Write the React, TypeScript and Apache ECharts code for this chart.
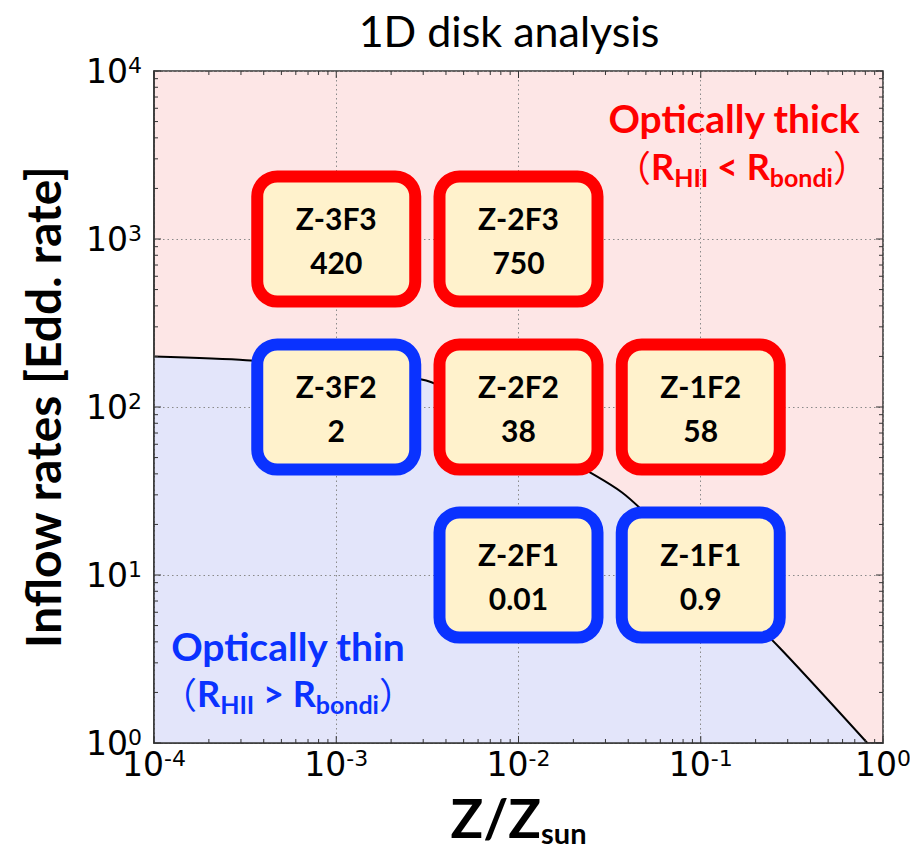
import React, { useEffect, useRef } from "react";
import * as echarts from "echarts";

// ---- data ----
const boundaryZ = [1e-4, 3.2e-4, 1e-3, 3.3e-3, 1e-2, 3.7e-2, 1e-1, 2.7e-1, 8.2e-1];
const boundaryRate = [200, 190, 166, 141, 70, 31, 10.8, 3.7, 1];

const boxZ = [1e-3, 1e-2, 1e-3, 1e-2, 1e-1, 1e-2, 1e-1];
const boxRate = [1e3, 1e3, 1e2, 1e2, 1e2, 1e1, 1e1];
const boxNames = ["Z-3F3", "Z-2F3", "Z-3F2", "Z-2F2", "Z-1F2", "Z-2F1", "Z-1F1"];
const boxValues = ["420", "750", "2", "38", "58", "0.01", "0.9"];
const boxThick = [true, true, false, true, true, false, false];

const xDecades = [-4, -3, -2, -1, 0];
const yDecades = [0, 1, 2, 3, 4];
const minorMult = [2, 3, 4, 5, 6, 7, 8, 9];

const RED = "#ff0000";
const BLUE = "#0a32ff";
const PINK = "#fde6e6";
const LAV = "#e3e5fa";
const CREAM = "#fff2cc";

const X_MIN = 1e-4, X_MAX = 1, Y_MIN = 1, Y_MAX = 1e4;

function regionRich(color: string) {
  return {
    b: { fontSize: 36, fontWeight: "bold", fontFamily: "Lato", fill: color, lineHeight: 40, verticalAlign: "middle" },
    p: { fontSize: 36, fontWeight: "normal", fontFamily: "'Noto Sans CJK JP'", fill: color, lineHeight: 40, verticalAlign: "middle" },
    s: { fontSize: 25, fontWeight: "bold", fontFamily: "Lato", fill: color, lineHeight: 22, padding: [18, 0, 0, 0], verticalAlign: "top" },
  };
}

export default function App() {
  const ref = useRef<HTMLDivElement>(null);
  useEffect(() => {
    if (!ref.current) return;
    const chart = echarts.init(ref.current, null, { renderer: "svg" });

    const tickData: any[] = [];
    xDecades.forEach((e) => {
      tickData.push({ value: [Math.pow(10, e), Y_MIN], kind: "x", major: true });
      if (e < 0) minorMult.forEach((m) => tickData.push({ value: [m * Math.pow(10, e), Y_MIN], kind: "x", major: false }));
    });
    yDecades.forEach((e) => {
      tickData.push({ value: [X_MIN, Math.pow(10, e)], kind: "y", major: true });
      if (e < 4) minorMult.forEach((m) => tickData.push({ value: [X_MIN, m * Math.pow(10, e)], kind: "y", major: false }));
    });

    const supFmt = (v: number) => {
      const e = Math.round(Math.log10(v));
      return "{b|10}{s|" + e + "}";
    };
    const labelRich = {
      b: { fontSize: 33, fontFamily: "DejaVu Sans", color: "#000", lineHeight: 34, verticalAlign: "bottom" },
      s: { fontSize: 22, fontFamily: "DejaVu Sans", color: "#000", lineHeight: 22, verticalAlign: "top" },
    };

    const splitLine = { show: true, lineStyle: { color: "#8a8a8a", width: 1, type: [1.5, 3] as any } };

    const option: any = {
      animation: false,
      grid: {
        left: 154, top: 71, width: 729, height: 672,
        outerBoundsMode: "none", containLabel: false,
        show: true, backgroundColor: PINK, borderColor: "#333", borderWidth: 1.5,
      },
      graphic: [
        {
          type: "text", x: 509, y: 30, z: 20,
          style: { text: "1D disk analysis", align: "center", verticalAlign: "middle", font: "43px Lato", fill: "#000" },
        },
        {
          type: "text", x: 734, y: 118, z: 20,
          style: { text: "Optically thick", align: "center", verticalAlign: "middle", font: "bold 39px Lato", fill: RED },
        },
        {
          type: "text", x: 742, y: 166, z: 20,
          style: {
            text: "{p|（}{b|R}{s|HII}{b| < R}{s|bondi}{p|）}", align: "center", verticalAlign: "middle",
            rich: regionRich(RED),
          },
        },
        {
          type: "text", x: 288, y: 646, z: 20,
          style: { text: "Optically thin", align: "center", verticalAlign: "middle", font: "bold 39px Lato", fill: BLUE },
        },
        {
          type: "text", x: 288, y: 693, z: 20,
          style: {
            text: "{p|（}{b|R}{s|HII}{b| > R}{s|bondi}{p|）}", align: "center", verticalAlign: "middle",
            rich: regionRich(BLUE),
          },
        },
      ],
      xAxis: {
        type: "log", logBase: 10, min: X_MIN, max: X_MAX, z: 5,
        axisLine: { show: true, lineStyle: { color: "#333", width: 1.5 } },
        axisTick: { show: false },
        splitLine,
        axisLabel: { margin: 4, formatter: supFmt, rich: labelRich },
        name: "Z/Z{s|sun}", nameLocation: "middle", nameGap: 44, nameMoveOverlap: false,
        nameTextStyle: {
          fontSize: 54, fontWeight: "bold", fontFamily: "Lato", color: "#000", lineHeight: 60,
          rich: { s: { fontSize: 29, fontWeight: "bold", fontFamily: "Lato", color: "#000", lineHeight: 29, verticalAlign: "bottom" } },
        },
      },
      yAxis: {
        type: "log", logBase: 10, min: Y_MIN, max: Y_MAX, z: 5,
        axisLine: { show: true, lineStyle: { color: "#333", width: 1.5 } },
        axisTick: { show: false },
        splitLine,
        axisLabel: { margin: 12, formatter: supFmt, rich: labelRich },
        name: "Inflow rates [Edd. rate]", nameLocation: "middle", nameGap: 88, nameRotate: 90, nameMoveOverlap: false,
        nameTextStyle: { fontSize: 48, fontWeight: "bold", fontFamily: "Lato", color: "#000" },
      },
      series: [
        {
          type: "line", z: 2, silent: true, symbol: "none", smooth: 0.25,
          data: boundaryZ.map((z, i) => [z, boundaryRate[i]]),
          lineStyle: { color: "#000", width: 2 },
          areaStyle: { color: LAV, opacity: 1, origin: "start" },
        },
        {
          type: "custom", z: 6, silent: true, clip: false,
          data: tickData,
          renderItem: (params: any, api: any) => {
            const d = tickData[params.dataIndex];
            const len = d.major ? 7 : 4;
            const style = { stroke: "#333", lineWidth: 1 };
            if (d.kind === "x") {
              const b = api.coord([d.value[0], Y_MIN]);
              const t = api.coord([d.value[0], Y_MAX]);
              return {
                type: "group", children: [
                  { type: "line", shape: { x1: b[0], y1: b[1], x2: b[0], y2: b[1] - len }, style },
                  { type: "line", shape: { x1: t[0], y1: t[1], x2: t[0], y2: t[1] + len }, style },
                ],
              };
            }
            const l = api.coord([X_MIN, d.value[1]]);
            const r = api.coord([X_MAX, d.value[1]]);
            return {
              type: "group", children: [
                { type: "line", shape: { x1: l[0], y1: l[1], x2: l[0] + len, y2: l[1] }, style },
                { type: "line", shape: { x1: r[0], y1: r[1], x2: r[0] - len, y2: r[1] }, style },
              ],
            };
          },
        },
        {
          type: "custom", z: 10, silent: true, clip: false,
          data: boxZ.map((z, i) => [z, boxRate[i]]),
          renderItem: (params: any, api: any) => {
            const i = params.dataIndex;
            const c = api.coord([boxZ[i], boxRate[i]]);
            const w = 158, h = 125;
            return {
              type: "group", children: [
                {
                  type: "rect",
                  shape: { x: c[0] - w / 2, y: c[1] - h / 2, width: w, height: h, r: 20 },
                  style: { fill: CREAM, stroke: boxThick[i] ? RED : BLUE, lineWidth: 12 },
                },
                {
                  type: "text",
                  style: {
                    text: boxNames[i] + "\n" + boxValues[i], x: c[0], y: c[1] + 1,
                    align: "center", verticalAlign: "middle",
                    font: "bold 30px Lato", lineHeight: 44, fill: "#000",
                  },
                },
              ],
            };
          },
        },
      ],
    };
    chart.setOption(option);
    return () => chart.dispose();
  }, []);
  return <div ref={ref} style={{ position: "absolute", left: 0, top: 0, width: 910, height: 852 }} />;
}
